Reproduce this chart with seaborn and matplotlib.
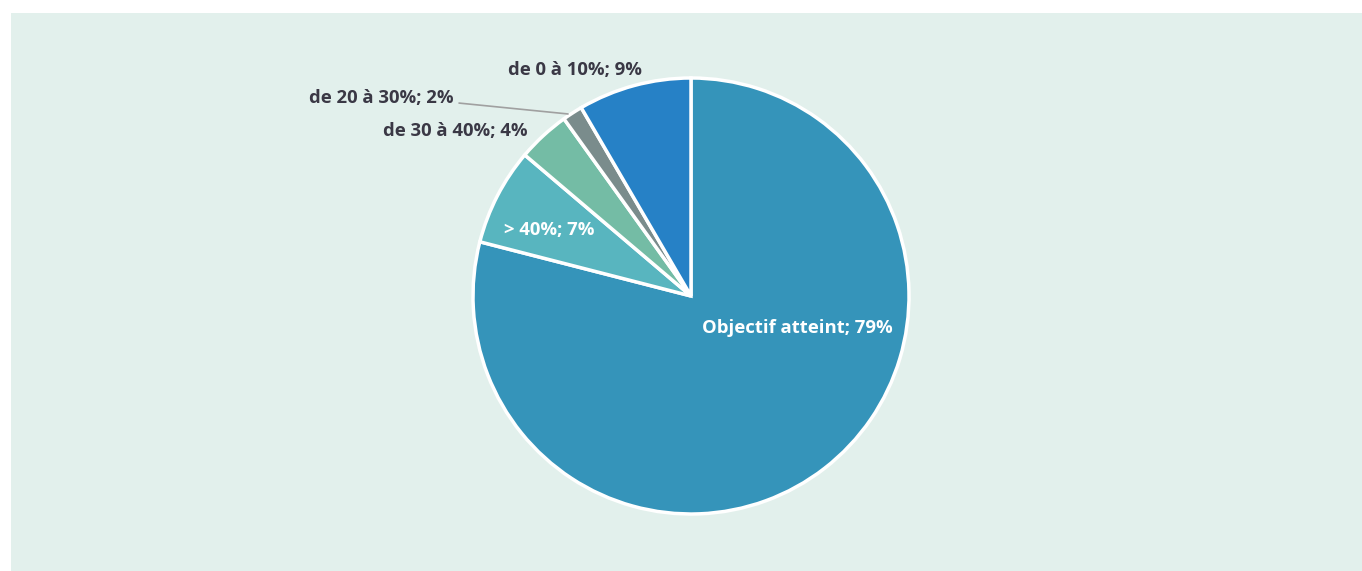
import matplotlib
matplotlib.use("Agg")
import matplotlib.pyplot as plt
import seaborn as sns
from matplotlib.patches import Rectangle

categories = ["Objectif atteint", "> 40%", "de 30 à 40%", "de 20 à 30%", "de 0 à 10%"]
values = [79.0, 7.2, 3.9, 1.5, 8.4]
shown_pct = ["79%", "7%", "4%", "2%", "9%"]
colors = ["#3594BA", "#58B5BF", "#74BCA5", "#7A8C8C", "#2681C6"]

sns.set_theme(style="white")
plt.rcParams['font.family'] = ['Open Sans', 'DejaVu Sans']

W, H = 1362, 571
fig = plt.figure(figsize=(W / 100, H / 100), dpi=100)
fig.patch.set_facecolor("white")
fig.patches.append(Rectangle((11 / W, 0), 1 - 11 / W, (H - 13) / H, transform=fig.transFigure,
                             facecolor="#E2F0EC", edgecolor="none", zorder=-10))

cx, cy, r = 691, 296, 218
ax = fig.add_axes([(cx - r) / W, (H - cy - r) / H, 2 * r / W, 2 * r / H])
ax.set_facecolor("none")
ax.set_zorder(1)
ax.pie(values, colors=colors, startangle=90, counterclock=False,
       wedgeprops=dict(edgecolor="white", linewidth=2.5))
ax.set_xlim(-1, 1)
ax.set_ylim(-1, 1)
ax.set_aspect("equal")
ax.axis("off")

dark = "#3A3845"
fs = 13.3
labels = [f"{c}; {p}" for c, p in zip(categories, shown_pct)]
ax.text(0.486, -0.147, labels[0], color="white", fontsize=fs, fontweight="bold", ha="center", va="center")
ax.text(-0.651, 0.303, labels[1], color="white", fontsize=fs, fontweight="bold", ha="center", va="center")
ax.text(-0.748, 0.757, labels[2], color=dark, fontsize=fs, fontweight="bold", ha="right", va="center")
ax.text(-1.087, 0.908, labels[3], color=dark, fontsize=fs, fontweight="bold", ha="right", va="center")
ax.plot([-1.064, -0.564], [0.885, 0.835], color="#A0A0A0", lw=1.2, clip_on=False)
ax.text(-0.532, 1.037, labels[4], color=dark, fontsize=fs, fontweight="bold", ha="center", va="center")

fig.savefig("out.png", dpi=100)
